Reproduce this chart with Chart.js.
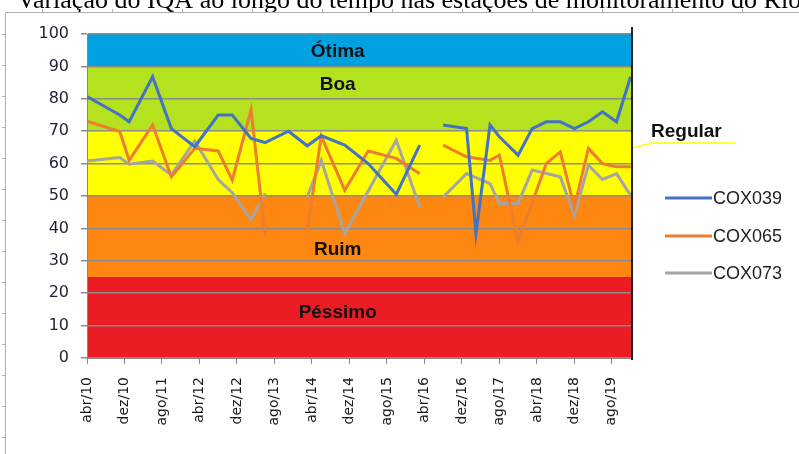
<!DOCTYPE html>
<html>
<head>
<meta charset="utf-8">
<script src="https://cdn.jsdelivr.net/npm/chart.js@4/dist/chart.umd.min.js"></script>
<style>
  html, body { margin: 0; padding: 0; background: #fff; }
  #wrap { width: 799px; height: 454px; }
</style>
</head>
<body>
<div id="wrap"><canvas id="iqa" width="799" height="454"></canvas></div>
<script>
// meses contados a partir de abr/10
const tickLabels = ['abr/10','dez/10','ago/11','abr/12','dez/12','ago/13','abr/14','dez/14','ago/15','abr/16','dez/16','ago/17','abr/18','dez/18','ago/19']

const cox039Months = [0,7,9,14,18,23,28,31,35,38,43,47,50,55,60,66,71,73,76,81,83,86,88,92,95,98,101,104,107,110,113,116]
const cox039Values = [80.7,75,72.9,86.8,70.8,65.2,75,75,67.8,66.5,70,65.5,68.6,65.7,60,50.5,65.7,null,71.9,70.8,38.4,71.9,68.3,62.6,70.8,72.9,72.9,70.8,72.9,76,72.9,86.8]

const cox065Months = [0,7,9,14,18,23,28,31,35,38,43,47,50,55,60,66,71,73,76,81,86,88,92,98,101,104,107,110,113,116]
const cox065Values = [73.1,69.9,61,71.9,55.9,64.7,63.9,54.9,76.7,37.9,null,39.4,68.5,51.8,63.9,61.6,56.9,null,65.7,62.1,61,62.6,35.8,60,63.6,46.6,64.7,60,59,59]

const cox073Months = [0,7,9,14,18,23,28,31,35,38,43,47,50,55,66,71,73,76,81,86,88,92,95,101,104,107,110,113,116]
const cox073Values = [60.8,61.9,59.8,60.8,56.5,67,55.1,51,42.7,50.8,null,49.7,61,38.4,67.2,46.6,null,49.7,56.9,53.8,47.7,47.7,58,55.9,44,59.5,55.1,56.9,50.2]

// faixas do IQA
const bandFrom   = [0, 25, 50, 70, 90]
const bandTo     = [25, 50, 70, 90, 100]
const bandColors = ['#ec1c24', '#fe8712', '#ffff00', '#b4e21f', '#00a1e0']
const bandNames  = ['Péssimo', 'Ruim', 'Regular', 'Boa', 'Ótima']
const bandTextY  = [13.9, 33.5, null, 84.2, 94.4]

const pontos = (meses, valores) => meses.map((m, i) => ({x: m, y: valores[i]}))

const serie = (nome, cor, meses, valores) => ({
  label: nome,
  data: pontos(meses, valores),
  borderColor: cor,
  backgroundColor: cor,
  borderWidth: 3,
  pointRadius: 0,
  tension: 0,
  spanGaps: false
})

const faixas = {
  id: 'faixas',
  beforeDraw(chart) {
    const { ctx, chartArea: { left, right }, scales: { y } } = chart
    ctx.save()
    bandFrom.forEach((b, i) => {
      const yTop = y.getPixelForValue(bandTo[i])
      const yBot = y.getPixelForValue(b)
      ctx.fillStyle = bandColors[i]
      ctx.fillRect(left, yTop, right - left, yBot - yTop)
    })
    ctx.restore()
  },
  afterDatasetsDraw(chart) {
    const { ctx, chartArea: { top, bottom, right }, scales: { x, y } } = chart
    ctx.save()
    ctx.font = 'bold 19px "Liberation Sans", Arial, sans-serif'
    ctx.fillStyle = '#111'
    ctx.textAlign = 'center'
    ctx.textBaseline = 'middle'
    bandNames.forEach((n, i) => {
      if (bandTextY[i] == null) return
      ctx.fillText(n, x.getPixelForValue(53.5), y.getPixelForValue(bandTextY[i]))
    })
    // rotulo "Regular" fora da area
    ctx.textAlign = 'left'
    ctx.textBaseline = 'alphabetic'
    ctx.fillText(bandNames[2], right + 19, 137)
    ctx.strokeStyle = '#ffff00'
    ctx.lineWidth = 1.5
    ctx.beginPath()
    ctx.moveTo(right, 148)
    ctx.lineTo(right + 20, 143)
    ctx.lineTo(right + 103, 143)
    ctx.stroke()
    // linha preta a direita
    ctx.strokeStyle = '#222'
    ctx.lineWidth = 2
    ctx.beginPath()
    ctx.moveTo(right, top - 7)
    ctx.lineTo(right, bottom + 2)
    ctx.stroke()
    ctx.restore()
  },
  afterDraw(chart) {
    const { ctx, data } = chart
    ctx.save()
    // titulo cortado
    ctx.font = '26px "Liberation Serif", "Times New Roman", serif'
    ctx.fillStyle = '#000'
    ctx.textBaseline = 'alphabetic'
    ctx.fillText('Variação do IQA ao longo do tempo nas estações de monitoramento do Rio', 17, 8)
    // moldura
    ctx.strokeStyle = '#b0b0b0'
    ctx.lineWidth = 1
    ctx.beginPath()
    ctx.moveTo(5.5, 454); ctx.lineTo(5.5, 12.5); ctx.lineTo(799, 12.5)
    for (let xx = 42; xx < 799; xx += 70) { ctx.moveTo(xx + 0.5, 12.5); ctx.lineTo(xx + 0.5, 9) }
    for (let yy = 34; yy < 454; yy += 31) { ctx.moveTo(5.5, yy + 0.5); ctx.lineTo(2, yy + 0.5) }
    ctx.stroke()
    // legenda
    ctx.font = '18px "Liberation Sans", Arial, sans-serif'
    ctx.textBaseline = 'middle'
    const legY = [198, 236, 273]
    data.datasets.forEach((d, i) => {
      ctx.strokeStyle = d.borderColor
      ctx.lineWidth = 3
      ctx.beginPath()
      ctx.moveTo(665, legY[i]); ctx.lineTo(712, legY[i])
      ctx.stroke()
      ctx.fillStyle = '#222'
      ctx.fillText(d.label, 713, legY[i] + 1)
    })
    ctx.restore()
  }
}

new Chart(document.getElementById('iqa'), {
  type: 'line',
  data: {
    datasets: [
      serie('COX039', '#4472c4', cox039Months, cox039Values),
      serie('COX065', '#ed7d31', cox065Months, cox065Values),
      serie('COX073', '#a5a5a5', cox073Months, cox073Values)
    ]
  },
  options: {
    responsive: false,
    animation: false,
    layout: { padding: { left: 30, right: 167, top: 34, bottom: 28 } },
    plugins: { legend: { display: false }, tooltip: { enabled: false } },
    scales: {
      x: {
        type: 'linear',
        min: 0,
        max: 116.3,
        afterBuildTicks: s => { s.ticks = tickLabels.map((_, i) => ({ value: i * 8 })) },
        afterFit: s => { s.height = 68 },
        grid: { drawOnChartArea: false, drawTicks: true, tickLength: 6, color: '#888' },
        border: { color: '#888', width: 1 },
        ticks: {
          autoSkip: false,
          minRotation: 90,
          maxRotation: 90,
          padding: 13,
          color: '#1a1a1a',
          font: { family: '"DejaVu Sans", sans-serif', size: 14 },
          callback: v => tickLabels[Math.round(v / 8)]
        }
      },
      y: {
        min: 0,
        max: 100,
        afterFit: s => { s.width = 57 },
        grid: { color: '#8c8c8c', lineWidth: 1.5, tickLength: 6 },
        border: { color: '#888', width: 1 },
        ticks: {
          stepSize: 10,
          padding: 12,
          color: '#1f1f3a',
          font: { family: '"DejaVu Sans", sans-serif', size: 16 }
        }
      }
    }
  },
  plugins: [faixas]
})
</script>
</body>
</html>
